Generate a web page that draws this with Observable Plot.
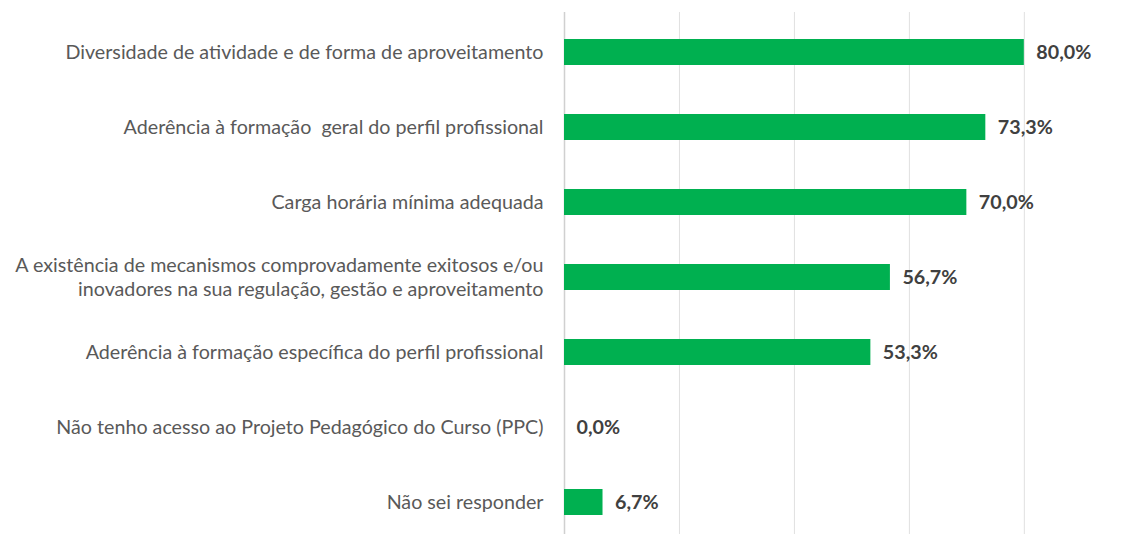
<!DOCTYPE html>
<html>
<head>
<meta charset="utf-8">
<script src="https://cdn.jsdelivr.net/npm/d3@7"></script>
<script src="https://cdn.jsdelivr.net/npm/@observablehq/plot@0.6"></script>
<style>
  html, body { margin: 0; padding: 0; background: #fff; }
  svg text { white-space: pre; }
</style>
</head>
<body>
<div id="chart"></div>
<script>
const categories = [
  "Diversidade de atividade e de forma de aproveitamento",
  "Aderência à formação  geral do perfil profissional",
  "Carga horária mínima adequada",
  "A existência de mecanismos comprovadamente exitosos e/ou\ninovadores na sua regulação, gestão e aproveitamento",
  "Aderência à formação específica do perfil profissional",
  "Não tenho acesso ao Projeto Pedagógico do Curso (PPC)",
  "Não sei responder"
];
const values = [80.0, 73.3, 70.0, 56.7, 53.3, 0.0, 6.7];
const gridTicks = [20, 40, 60, 80];

const data = categories.map((c, i) => ({category: c, value: values[i]}));
const fmt = v => v.toFixed(1).replace(".", ",") + "%";

const chart = Plot.plot({
  width: 1125,
  height: 534,
  marginLeft: 564,
  marginRight: 0,
  marginTop: 12,
  marginBottom: 0,
  style: {fontFamily: "Lato, 'Open Sans', sans-serif", background: "#fff"},
  x: {domain: [0, 97.6], axis: null},
  y: {domain: categories, axis: null, range: [12, 541.7], paddingInner: 0.655, paddingOuter: 0.345},
  marks: [
    Plot.gridX(gridTicks, {stroke: "#e0e0e0", strokeOpacity: 1, strokeWidth: 1}),
    Plot.ruleX([0], {stroke: "#d0d0d0", strokeWidth: 1.5}),
    Plot.barX(data, {x: "value", y: "category", fill: "#00b050"}),
    Plot.text(data, {
      x: "value", y: "category", text: d => fmt(d.value),
      dx: 12, textAnchor: "start", fontWeight: "bold", fontSize: 19.7, fill: "#404040"
    }),
    Plot.text(data, {
      x: 0, y: "category", text: "category",
      dx: -21, dy: -1, textAnchor: "end", fontSize: 19.7, fill: "#595959", lineHeight: 1.22
    })
  ]
});
document.getElementById("chart").appendChild(chart);
</script>
</body>
</html>
